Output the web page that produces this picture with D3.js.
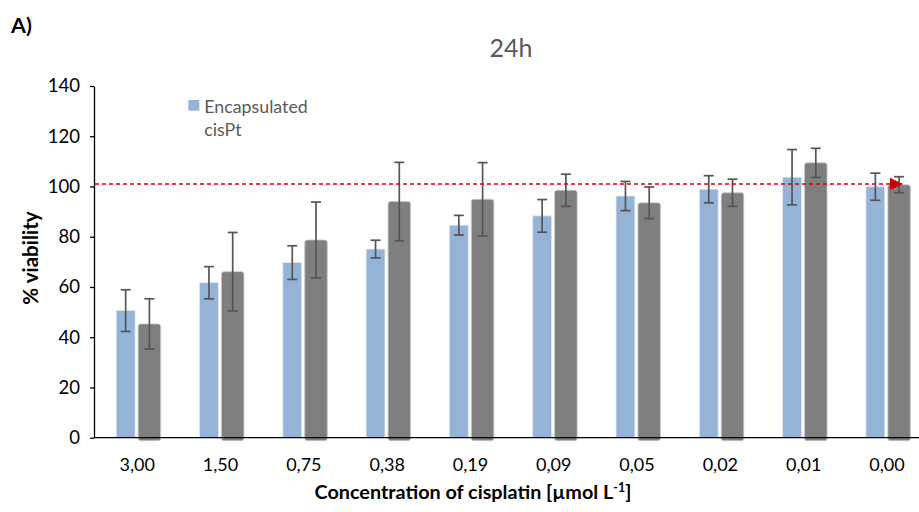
<!DOCTYPE html>
<html>
<head>
<meta charset="utf-8">
<script src="https://cdn.jsdelivr.net/npm/d3@7"></script>
<style>
  html, body { margin: 0; padding: 0; background: #fff; }
  svg { display: block; font-family: Lato, "Open Sans", sans-serif; }
</style>
</head>
<body>
<svg id="chart" width="919" height="512"></svg>
<script>
// Cisplatin concentrations (µmol L-1), as printed on the x axis
const concentrations = ["3,00", "1,50", "0,75", "0,38", "0,19", "0,09", "0,05", "0,02", "0,01", "0,00"];

// % viability after 24 h – encapsulated cisplatin (blue)
const encapsulated    = [50.6, 61.7, 69.7, 75.1, 84.6, 88.3, 96.2, 98.9, 103.7, 99.9];
const encapsulatedErr = [8.3, 6.4, 6.7, 3.5, 3.9, 6.5, 5.8, 5.4, 11.0, 5.4];

// % viability after 24 h – free cisplatin (grey)
const freeCisPt    = [45.3, 66.1, 78.7, 94.0, 94.9, 98.5, 93.5, 97.5, 109.4, 100.7];
const freeCisPtErr = [10.0, 15.6, 15.1, 15.6, 14.6, 6.4, 6.3, 5.4, 5.8, 3.2];

const yTicks = [0, 20, 40, 60, 80, 100, 120, 140];
const referenceLevel = 101;   // dashed red reference line
const legendLabel = ["Encapsulated", "cisPt"];
const chartTitle = "24h";
const panelLabel = "A)";

const svg = d3.select("#chart");

const x = d3.scaleBand().domain(concentrations).range([95.6, 928.6]).padding(0);
const y = d3.scaleLinear().domain([0, 140]).range([437.7, 86]);
const center = d => x(d) + x.bandwidth() / 2;

const blueFill = "#95b3d7", greyFill = "#7f7f7f", errColor = "#555555", textColor = "#595959";

// grey bars (drawn first, they run a little below the baseline)
svg.append("g").selectAll("rect")
  .data(concentrations)
  .join("rect")
  .attr("x", d => center(d) + 0.9)
  .attr("width", 22.5)
  .attr("y", (d, i) => y(freeCisPt[i]))
  .attr("height", (d, i) => y(0) - y(freeCisPt[i]) + 3)
  .attr("rx", 2.5)
  .attr("fill", greyFill)
  .attr("stroke", "#c8c8c8")
  .attr("stroke-width", 0.8);

// blue bars
svg.append("g").selectAll("rect")
  .data(concentrations)
  .join("rect")
  .attr("x", d => center(d) - 21)
  .attr("width", 18.8)
  .attr("y", (d, i) => y(encapsulated[i]))
  .attr("height", (d, i) => y(0) - y(encapsulated[i]))
  .attr("fill", blueFill)
  .attr("stroke", "#dce6f2")
  .attr("stroke-width", 0.8);

// error bars
function errorBars(values, errs, dx) {
  const g = svg.append("g").attr("stroke", errColor).attr("stroke-width", 1.7);
  concentrations.forEach((d, i) => {
    const cx = center(d) + dx;
    const hi = y(values[i] + errs[i]), lo = y(values[i] - errs[i]);
    g.append("line").attr("x1", cx).attr("x2", cx).attr("y1", hi).attr("y2", lo);
    g.append("line").attr("x1", cx - 5).attr("x2", cx + 5).attr("y1", hi).attr("y2", hi);
    g.append("line").attr("x1", cx - 5).attr("x2", cx + 5).attr("y1", lo).attr("y2", lo);
  });
}
errorBars(encapsulated, encapsulatedErr, -11.6);
errorBars(freeCisPt, freeCisPtErr, 12.15);

// reference line with arrowhead
svg.append("defs").append("marker")
  .attr("id", "arrowHead")
  .attr("viewBox", "0 0 10 10")
  .attr("refX", 10).attr("refY", 5)
  .attr("markerUnits", "userSpaceOnUse")
  .attr("markerWidth", 13.5).attr("markerHeight", 12.5)
  .attr("orient", "auto")
  .append("path").attr("d", "M0,0 L10,5 L0,10 Z").attr("fill", "#c00000");

svg.append("line")
  .attr("x1", 95).attr("x2", 902.5)
  .attr("y1", y(referenceLevel)).attr("y2", y(referenceLevel))
  .attr("stroke", "#e00000")
  .attr("stroke-width", 1.4)
  .attr("stroke-dasharray", "4,3")
  .attr("marker-end", "url(#arrowHead)");

// y axis
const yAxis = svg.append("g")
  .attr("transform", "translate(94,0)")
  .call(d3.axisLeft(y).tickValues(yTicks).tickSize(4).tickPadding(10).tickSizeOuter(0));
yAxis.select(".domain").attr("stroke", "#000").attr("stroke-width", 1.3);
yAxis.selectAll(".tick line").attr("stroke", "#000").attr("stroke-width", 1.3);
yAxis.selectAll(".tick text")
  .attr("fill", "#000").attr("font-size", 18.5)
  .attr("font-family", "Lato, sans-serif");

// x axis (baseline only, labels under each group)
const xAxis = svg.append("g")
  .attr("transform", `translate(0,${y(0)})`)
  .call(d3.axisBottom(x).tickSize(0).tickPadding(21).tickSizeOuter(0));
xAxis.select(".domain").attr("stroke", "#000").attr("stroke-width", 1.3)
  .attr("d", `M94,0H919`);
xAxis.selectAll(".tick text")
  .attr("fill", "#000").attr("font-size", 18)
  .attr("font-family", "Lato, sans-serif");

// axis titles
svg.append("text")
  .attr("transform", "translate(37.5,258) rotate(-90)")
  .attr("text-anchor", "middle")
  .attr("font-weight", "bold").attr("font-size", 20.5).attr("fill", "#000")
  .text("% viability");

const xt = svg.append("text")
  .attr("x", 473).attr("y", 498.5)
  .attr("text-anchor", "middle")
  .attr("font-weight", "bold").attr("font-size", 19.8).attr("fill", "#000");
xt.append("tspan").text("Concentration of cisplatin [µmol L");
xt.append("tspan").attr("dy", -7).attr("font-size", 12.5).text("-1");
xt.append("tspan").attr("dy", 7).text("]");

// chart title and panel label
svg.append("text")
  .attr("x", 511).attr("y", 57)
  .attr("text-anchor", "middle")
  .attr("font-size", 25).attr("fill", textColor)
  .text(chartTitle);

svg.append("text")
  .attr("x", 11).attr("y", 32.5)
  .attr("font-weight", "bold").attr("font-size", 21.5).attr("fill", "#000")
  .text(panelLabel);

// legend
svg.append("rect")
  .attr("x", 188.3).attr("y", 100).attr("width", 11).attr("height", 10.7)
  .attr("fill", blueFill);
svg.append("text")
  .attr("x", 204.3).attr("y", 112.7)
  .attr("font-size", 17.8).attr("fill", textColor)
  .text(legendLabel[0]);
svg.append("text")
  .attr("x", 204.3).attr("y", 135.5)
  .attr("font-size", 17.8).attr("fill", textColor)
  .text(legendLabel[1]);
</script>
</body>
</html>
